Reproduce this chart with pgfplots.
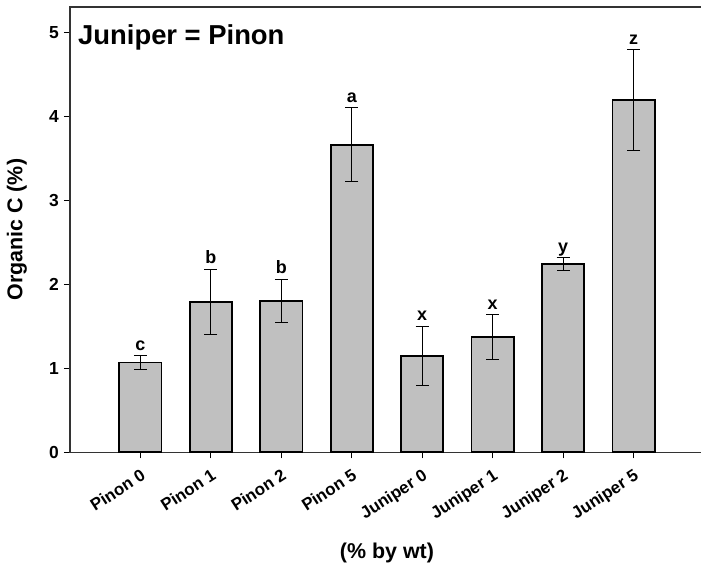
\documentclass[border=0pt]{standalone}
\usepackage{fontspec}
\setmainfont{Liberation Sans}
\usepackage{pgfplots}
\pgfplotsset{compat=1.18}
\usetikzlibrary{calc}
\definecolor{barfill}{RGB}{192,192,192}

\begin{document}
\begin{tikzpicture}
\begin{axis}[
 scale only axis,
 width=634bp, height=445.3bp,
 xmin=-1, xmax=8, ymin=0, ymax=5.3,
 ytick={0,1,2,3,4,5},
 xtick={0,...,7},
 xticklabels={Pinon 0, Pinon 1, Pinon 2, Pinon 5, Juniper 0, Juniper 1, Juniper 2, Juniper 5},
 tick align=outside, tick pos=left, major tick length=6bp,
 tick style={black, line width=1bp},
 axis line style={line width=1.2bp, black!80},
 /pgf/number format/assume math mode=true,
 tick label style={font=\fontsize{17.5}{17.5}\selectfont\bfseries},
 yticklabel style={inner sep=2bp, xshift=-3bp},
 xticklabel style={rotate=33, anchor=north east, inner sep=2bp, font=\fontsize{17}{17}\selectfont\bfseries},
 xticklabel shift=7bp,
 ylabel={Organic C (\%)},
 xlabel={(\% by wt)},
 label style={font=\fontsize{21.5}{21.5}\selectfont\bfseries},
 ylabel style={at={(axis description cs:-0.0836,0.5)}, anchor=center},
 xlabel style={at={(axis description cs:0.5,-0.226)}, anchor=center},
 clip=false,
]
\addplot[ybar, bar width=0.6, draw=black, line width=1.8bp, fill=barfill,
  error bars/.cd, y dir=both, y explicit,
  error bar style={line width=1bp, black},
  error mark options={rotate=90, mark size=6.5bp, line width=1bp, black}]
  table[x=x, y=y, y error=e] {
x y e
0 1.07 0.08
1 1.79 0.39
2 1.80 0.26
3 3.66 0.44
4 1.15 0.35
5 1.37 0.27
6 2.24 0.075
7 4.19 0.60
};
\addplot[draw=none, mark=none, nodes near coords, point meta=explicit symbolic,
  nodes near coords style={font=\fontsize{18}{18}\selectfont\bfseries, anchor=base, yshift=5.5bp, inner sep=0pt}]
  table[x=x, y=t, meta=l] {
x t l
0 1.15 c
1 2.18 b
2 2.06 b
3 4.10 a
4 1.50 x
5 1.64 x
6 2.315 y
7 4.79 z
};
\node[anchor=base west, font=\fontsize{27.5}{27.5}\selectfont\bfseries, inner sep=0pt, xshift=8bp, yshift=-38bp] at (rel axis cs:0,1) {Juniper = Pinon};
\coordinate (bl) at (rel axis cs:0,0);
\end{axis}
\pgfresetboundingbox
\path[use as bounding box] ($(bl)+(-70bp,-116.7bp)$) rectangle ($(bl)+(631bp,452.3bp)$);
\end{tikzpicture}
\end{document}
